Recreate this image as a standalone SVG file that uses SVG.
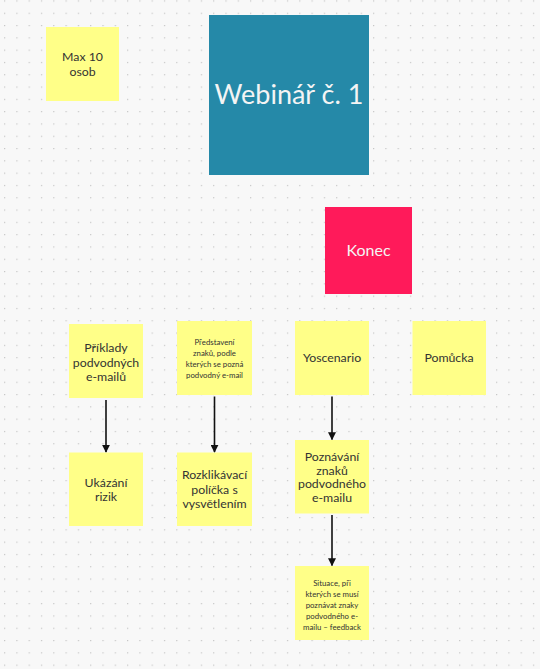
<svg xmlns="http://www.w3.org/2000/svg" width="540" height="669" viewBox="0 0 540 669">
  <defs>
    <pattern id="dots" x="4" y="0.4" width="12.3" height="12.3" patternUnits="userSpaceOnUse">
      <circle cx="0.6" cy="0.6" r="0.7" fill="#c4c4c4"/>
    </pattern>
    <marker id="arr" viewBox="0 0 10 10" refX="9" refY="5" markerWidth="8" markerHeight="8" markerUnits="userSpaceOnUse" orient="auto">
      <path d="M0,0 L10,5 L0,10 Z" fill="#111"/>
    </marker>
  </defs>
  <style>
    .sticky { fill: #ffff88; }
    .t { font-family: "Lato", "Open Sans", "Liberation Sans", sans-serif; fill: #333; text-anchor: middle; font-size: 12.3px; }
    .s { font-size: 7.8px; }
    .w { fill: #f4f4f4; }
    .conn { stroke: #111; stroke-width: 1.6; fill: none; marker-end: url(#arr); }
  </style>
  <rect width="540" height="669" fill="#f8f8f8"/>
  <rect width="540" height="669" fill="url(#dots)"/>

  <g id="max10">
    <rect class="sticky" x="46" y="27" width="73" height="74"/>
    <text class="t" x="82.5" y="61">Max 10</text>
    <text class="t" x="82.5" y="76">osob</text>
  </g>

  <g id="webinar">
    <rect x="209" y="15" width="160" height="160" fill="#2589a8"/>
    <text class="t w" x="289" y="104" style="font-size:27px">Webinář č. 1</text>
  </g>

  <g id="konec">
    <rect x="325" y="207" width="87" height="87" fill="#ff1a5a"/>
    <text class="t w" x="368.5" y="256" style="font-size:16px">Konec</text>
  </g>

  <g id="priklady">
    <rect class="sticky" x="69" y="324" width="74" height="74"/>
    <text class="t" x="106" y="352">Příklady</text>
    <text class="t" x="106" y="366.5">podvodných</text>
    <text class="t" x="106" y="381">e-mailů</text>
  </g>

  <g id="predstaveni">
    <rect class="sticky" x="177" y="321" width="75" height="74"/>
    <text class="t s" x="214.5" y="344.5">Představení</text>
    <text class="t s" x="214.5" y="355.5">znaků, podle</text>
    <text class="t s" x="214.5" y="366.5">kterých se pozná</text>
    <text class="t s" x="214.5" y="377.5">podvodný e-mail</text>
  </g>

  <g id="yoscenario">
    <rect class="sticky" x="295" y="321" width="74" height="74"/>
    <text class="t" x="332" y="362">Yoscenario</text>
  </g>

  <g id="pomucka">
    <rect class="sticky" x="412.5" y="321" width="73.5" height="74"/>
    <text class="t" x="449" y="362">Pomůcka</text>
  </g>

  <g id="ukazani">
    <rect class="sticky" x="69" y="452.5" width="74" height="73.5"/>
    <text class="t" x="106" y="486.5">Ukázání</text>
    <text class="t" x="106" y="501">rizik</text>
  </g>

  <g id="rozklikavaci">
    <rect class="sticky" x="177" y="452.5" width="75" height="73.5"/>
    <text class="t" x="214.5" y="479">Rozklikávací</text>
    <text class="t" x="214.5" y="493.5">políčka s</text>
    <text class="t" x="214.5" y="508">vysvětlením</text>
  </g>

  <g id="poznavani">
    <rect class="sticky" x="295" y="440" width="74" height="73.5"/>
    <text class="t" x="332" y="461">Poznávání</text>
    <text class="t" x="332" y="474.5">znaků</text>
    <text class="t" x="332" y="488">podvodného</text>
    <text class="t" x="332" y="501.5">e-mailu</text>
  </g>

  <g id="situace">
    <rect class="sticky" x="295" y="566" width="74" height="74"/>
    <text class="t s" x="332" y="586">Situace, při</text>
    <text class="t s" x="332" y="597">kterých se musí</text>
    <text class="t s" x="332" y="608">poznávat znaky</text>
    <text class="t s" x="332" y="619">podvodného e-</text>
    <text class="t s" x="332" y="630">mailu – feedback</text>
  </g>

  <g id="connectors">
    <line class="conn" x1="106" y1="400" x2="106" y2="452"/>
    <line class="conn" x1="214.5" y1="396.5" x2="214.5" y2="452"/>
    <line class="conn" x1="332" y1="396.5" x2="332" y2="439.5"/>
    <line class="conn" x1="332" y1="515" x2="332" y2="565.5"/>
  </g>
</svg>
